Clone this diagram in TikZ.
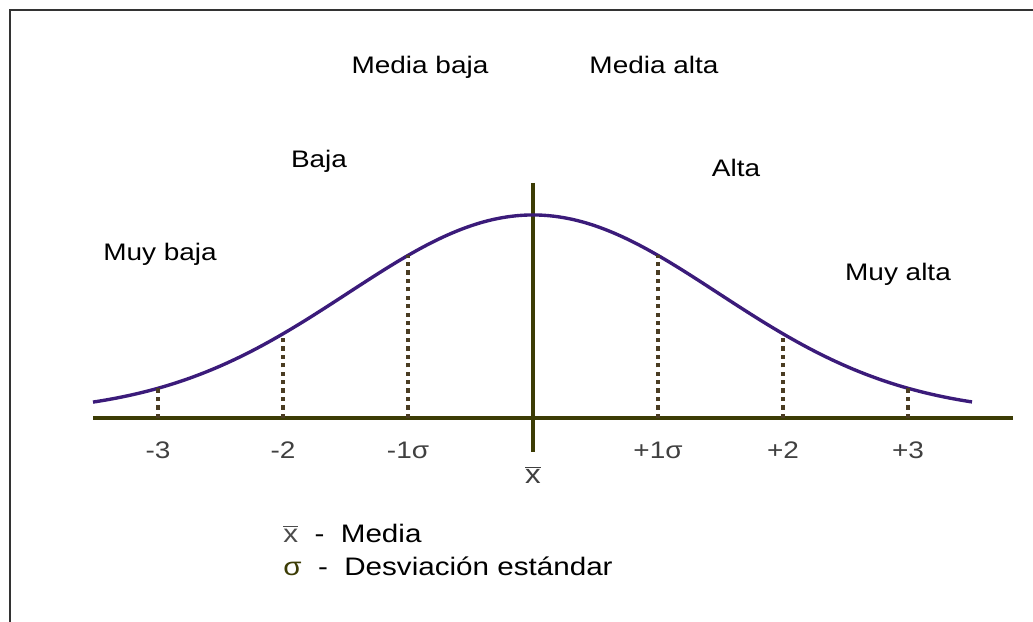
\documentclass[tikz,border=0pt]{standalone}
\usepackage{fontspec}
\setmainfont{Liberation Sans}
\usepackage{tikz}
\usetikzlibrary{positioning}
\definecolor{curvepurple}{HTML}{3B1B7A}
\definecolor{axisolive}{HTML}{3C3C05}
\definecolor{dotbrown}{HTML}{4A3C22}
\newcommand{\wtext}[1]{\scalebox{1.17}[1]{#1}}
\newcommand{\xbar}{\ensuremath{\overline{\mbox{x}}}}
\tikzstyle{axis} = [line width=2.8pt, axisolive]
\tikzstyle{curve} = [line width=2.4pt, curvepurple]
\tikzstyle{dotline} = [line width=2.6pt, dotbrown, dash pattern=on 3pt off 3pt]
\tikzstyle{zonelabel} = [inner sep=0pt, anchor=base, font=\fontsize{17}{20}\selectfont]
\tikzstyle{ticklabel} = [inner sep=0pt, anchor=base, text=black!75, font=\fontsize{17}{20}\selectfont]
\tikzstyle{legendtext} = [inner sep=0pt, anchor=base west, font=\fontsize{18}{21}\selectfont]

\begin{document}
\begin{tikzpicture}[x=0.025cm, y=-0.025cm]
    \useasboundingbox (0,0) rectangle (1033,622);

    % frame
    \draw[line width=1.6pt, black!80] (10,622) -- (10,10) -- (1033,10);

    % axes
    \coordinate (axl) at (93,418);
    \coordinate (axr) at (1013,418);
    \coordinate (vtop) at (533,183);
    \coordinate (vbot) at (533,452);
    \draw[axis] (axl) -- (axr);
    \draw[axis] (vtop) -- (vbot);

    % bell curve
    \draw[curve] plot[domain=93:972, samples=150, smooth]
        (\x, {414-199*exp(-1*((\x-533)/125)^2/4.4)});

    % sigma ticks
    \foreach \px/\n/\txt in {158/m3/-3, 283/m2/-2, 408/m1/-1σ, 658/p1/+1σ, 783/p2/+2, 908/p3/+3}{
      \coordinate (t\n) at (\px,418);
      \coordinate (c\n) at (\px,{414-199*exp(-1*((\px-533)/125)^2/4.4)});
      \draw[dotline] (t\n) -- (c\n);
      \node[ticklabel] (l\n) at (\px,458) {\wtext{\txt}};
    }
    \node[ticklabel, font=\fontsize{19}{22}\selectfont] (mean) at (533,483) {\wtext{\xbar}};

    % zones
    \node[zonelabel] (mediabaja) at (420,74) {\wtext{Media baja}};
    \node[zonelabel] (mediaalta) at (654,74) {\wtext{Media alta}};
    \node[zonelabel] (baja) at (319,168) {\wtext{Baja}};
    \node[zonelabel] (alta) at (736,177) {\wtext{Alta}};
    \node[zonelabel] (muybaja) at (160,261) {\wtext{Muy baja}};
    \node[zonelabel] (muyalta) at (898,281) {\wtext{Muy alta}};

    % legend
    \node[legendtext] (leg1) at (283,542) {\wtext{{\color{black!70}\xbar}\ \ -\ \ Media}};
    \node[legendtext] (leg2) at (283,575) {\wtext{{\color{axisolive}σ}\ \ -\ \ Desviación estándar}};
\end{tikzpicture}
\end{document}
